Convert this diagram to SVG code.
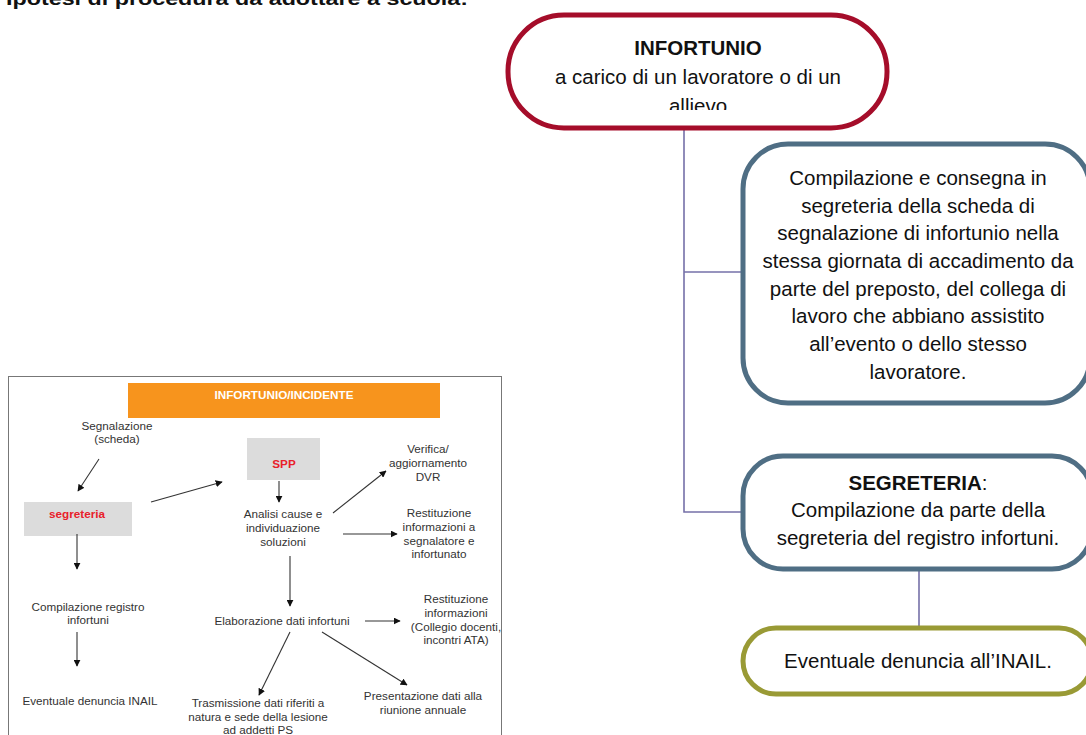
<svg xmlns="http://www.w3.org/2000/svg" width="1086" height="735" viewBox="0 0 1086 735">
<style>
.t{font-family:"Liberation Sans",Arial,sans-serif;fill:#333;font-size:11.7px;text-anchor:middle}
.r{font-family:"Liberation Sans",Arial,sans-serif;fill:#111;font-size:20.5px;text-anchor:middle}
.b{font-weight:bold}
.ln{stroke:#333;stroke-width:1.1;fill:none;marker-end:url(#ah)}
.cn{stroke:#7570a8;stroke-width:1.6;fill:none}
.box{fill:#fff;stroke-width:5}
</style>
<defs>
<marker id="ah" viewBox="0 0 10 10" refX="9" refY="5" markerWidth="7" markerHeight="7" orient="auto" markerUnits="userSpaceOnUse"><path d="M0,0 L10,5 L0,10 z" fill="#111"/></marker>
<clipPath id="c1"><rect x="506" y="13" width="383" height="97"/></clipPath>
</defs>
<rect width="1086" height="735" fill="#fff"/>
<text x="6" y="5" font-family="Liberation Sans,Arial,sans-serif" font-weight="bold" font-size="18" fill="#111" textLength="462" lengthAdjust="spacingAndGlyphs">Ipotesi di procedura da adottare a scuola:</text>

<g id="left-figure">
<rect x="8.5" y="376.5" width="493" height="370" fill="#fff" stroke="#777" stroke-width="1"/>
<g id="header"><rect x="128" y="383" width="312" height="35" fill="#f7941d"/>
<text class="t b" x="284" y="399" style="fill:#fff">INFORTUNIO/INCIDENTE</text></g>
<g id="segnalazione"><text class="t" x="117" y="430">Segnalazione</text><text class="t" x="117" y="443">(scheda)</text></g>
<g id="segreteria-l"><rect x="24" y="502" width="108" height="34" fill="#dcdcdc"/><text class="t b" x="77" y="518" style="fill:#e8202a">segreteria</text></g>
<g id="compilazione-l"><text class="t" x="88" y="611">Compilazione registro</text><text class="t" x="88" y="624">infortuni</text></g>
<g id="denuncia-l"><text class="t" x="90" y="705">Eventuale denuncia INAIL</text></g>
<g id="spp"><rect x="247" y="438" width="73" height="42" fill="#dcdcdc"/><text class="t b" x="284" y="468" style="fill:#e8202a">SPP</text></g>
<g id="analisi"><text class="t" x="283" y="518">Analisi cause e</text><text class="t" x="283" y="532">individuazione</text><text class="t" x="283" y="546">soluzioni</text></g>
<g id="verifica"><text class="t" x="428" y="453">Verifica/</text><text class="t" x="428" y="467">aggiornamento</text><text class="t" x="428" y="481">DVR</text></g>
<g id="restituzione1"><text class="t" x="439" y="517">Restituzione</text><text class="t" x="439" y="531">informazioni a</text><text class="t" x="439" y="545">segnalatore e</text><text class="t" x="439" y="558">infortunato</text></g>
<g id="elaborazione"><text class="t" x="282" y="625">Elaborazione dati infortuni</text></g>
<g id="restituzione2"><text class="t" x="456" y="603">Restituzione</text><text class="t" x="456" y="617">informazioni</text><text class="t" x="456" y="631">(Collegio docenti,</text><text class="t" x="456" y="644">incontri ATA)</text></g>
<g id="trasmissione"><text class="t" x="258" y="707">Trasmissione dati riferiti a</text><text class="t" x="258" y="721">natura e sede della lesione</text><text class="t" x="258" y="734">ad addetti PS</text></g>
<g id="presentazione"><text class="t" x="423" y="700">Presentazione dati alla</text><text class="t" x="423" y="714">riunione annuale</text></g>
<g id="left-connectors">
<line class="ln" x1="99" y1="459" x2="78" y2="491"/>
<line class="ln" x1="77" y1="534" x2="77" y2="569"/>
<line class="ln" x1="77" y1="632" x2="77" y2="666"/>
<line class="ln" x1="151" y1="502" x2="222" y2="482"/>
<line class="ln" x1="279" y1="481" x2="279" y2="502"/>
<line class="ln" x1="333" y1="513" x2="386" y2="471"/>
<line class="ln" x1="343" y1="534" x2="397" y2="534"/>
<line class="ln" x1="290" y1="556" x2="290" y2="606"/>
<line class="ln" x1="365" y1="621" x2="400" y2="621"/>
<line class="ln" x1="290" y1="632" x2="259" y2="695"/>
<line class="ln" x1="322" y1="632" x2="407" y2="685"/>
</g>
</g>

<g id="connectors">
<polyline class="cn" points="684,129 684,512 743,512"/>
<line class="cn" x1="684" y1="272" x2="743" y2="272"/>
<line class="cn" x1="919" y1="570" x2="919" y2="628"/>
</g>

<g id="infortunio">
<rect class="box" x="508" y="15" width="379" height="113" rx="56" stroke="#a50d2a"/>
<text class="r b" x="698" y="55">INFORTUNIO</text>
<text class="r" x="698" y="84">a carico di un lavoratore o di un</text>
<text class="r" x="698" y="113" clip-path="url(#c1)">allievo</text>
</g>

<g id="compilazione">
<rect class="box" x="743" y="144" width="347" height="259" rx="45" stroke="#4f6e84"/>
<text class="r" x="918" y="185">Compilazione e consegna in</text>
<text class="r" x="918" y="213">segreteria della scheda di</text>
<text class="r" x="918" y="240">segnalazione di infortunio nella</text>
<text class="r" x="918" y="268">stessa giornata di accadimento da</text>
<text class="r" x="918" y="296">parte del preposto, del collega di</text>
<text class="r" x="918" y="323">lavoro che abbiano assistito</text>
<text class="r" x="918" y="351">all’evento o dello stesso</text>
<text class="r" x="918" y="379">lavoratore.</text>
</g>

<g id="segreteria">
<rect class="box" x="743" y="456" width="349" height="113" rx="40" stroke="#4f6e84"/>
<text class="r" x="918" y="490"><tspan font-weight="bold">SEGRETERIA</tspan>:</text>
<text class="r" x="918" y="517">Compilazione da parte della</text>
<text class="r" x="918" y="545">segreteria del registro infortuni.</text>
</g>

<g id="denuncia">
<rect class="box" x="743" y="628" width="349" height="66" rx="33" stroke="#999a35"/>
<text class="r" x="918" y="668">Eventuale denuncia all’INAIL.</text>
</g>
</svg>
